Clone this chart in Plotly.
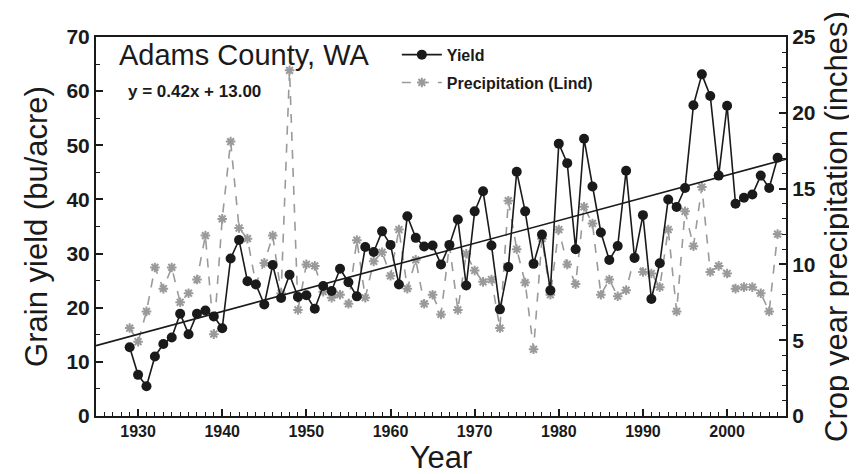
import plotly.graph_objects as go

years = list(range(1929, 2007))

yield_bu = [12.7, 7.6, 5.5, 11.0, 13.3, 14.5, 18.9, 15.1, 18.9, 19.5,
            18.4, 16.2, 29.1, 32.5, 24.9, 24.3, 20.6, 27.9, 21.8, 26.1,
            22.0, 22.3, 19.8, 24.0, 23.1, 27.2, 24.7, 22.1, 31.2, 30.3,
            34.1, 31.6, 24.3, 36.9, 32.9, 31.3, 31.5, 28.0, 31.6, 36.3,
            24.1, 37.8, 41.5, 31.5, 19.7, 27.5, 45.1, 37.8, 28.1, 33.5,
            23.2, 50.3, 46.7, 30.8, 51.2, 42.4, 33.9, 28.8, 31.4, 45.3,
            29.2, 37.1, 21.6, 28.2, 40.0, 38.6, 42.1, 57.4, 63.1, 59.1,
            44.4, 57.3, 39.2, 40.3, 40.9, 44.4, 42.1, 47.7]

precip_in = [5.8, 4.9, 6.9, 9.8, 8.4, 9.8, 7.5, 8.1, 9.0, 11.9,
             5.4, 13.0, 18.1, 12.4, 11.7, 8.7, 10.1, 11.9, 8.1, 22.8,
             7.0, 10.0, 9.9, 8.2, 7.8, 8.0, 7.4, 11.6, 7.8, 10.2,
             10.8, 9.25, 12.3, 8.4, 10.3, 7.4, 8.0, 6.7, 11.3, 7.0,
             10.7, 9.6, 8.85, 9.0, 5.8, 14.2, 11.0, 8.8, 4.4, 11.7,
             8.0, 12.3, 10.0, 8.7, 13.8, 12.7, 8.0, 9.0, 7.9, 8.3,
             10.5, 9.5, 9.4, 8.5, 12.3, 6.9, 13.5, 11.2, 15.1, 9.5,
             9.9, 9.4, 8.4, 8.5, 8.5, 8.1, 6.9, 12.0]

TREND_SLOPE = 0.42
TREND_INTERCEPT = 13.00
TREND_ORIGIN = 1925
x_range = [1925, 2007]
trend_x = x_range
trend_y = [TREND_SLOPE * (x - TREND_ORIGIN) + TREND_INTERCEPT for x in trend_x]

FONT = "Liberation Sans"
INK = "#1a1a1a"
GRAY = "#9a9a9a"

fig = go.Figure()

fig.add_trace(go.Scatter(
    x=years, y=precip_in, name="Precipitation (Lind)", mode="lines+markers",
    yaxis="y", legendrank=2, legendgroup="b",
    line=dict(color=GRAY, width=1.6, dash="dash"),
    marker=dict(symbol="asterisk-open", size=8, color=GRAY,
                line=dict(color=GRAY, width=2)),
))
fig.add_trace(go.Scatter(
    x=trend_x, y=trend_y, mode="lines", yaxis="y2", showlegend=False,
    line=dict(color=INK, width=1.6),
))
fig.add_trace(go.Scatter(
    x=years, y=yield_bu, name="Yield", mode="lines+markers",
    yaxis="y2", legendrank=1, legendgroup="a",
    line=dict(color=INK, width=1.6),
    marker=dict(symbol="circle", size=10, color=INK),
))

axis_common = dict(
    ticks="inside", ticklen=7, tickwidth=1.5, tickcolor=INK,
    showline=True, linecolor=INK, linewidth=2,
    showgrid=False, zeroline=False, automargin=False,
)

fig.update_layout(
    width=857, height=474,
    margin=dict(l=88, r=79, t=29, b=66, autoexpand=False),
    plot_bgcolor="white", paper_bgcolor="white",
    font=dict(family=FONT, color=INK),
    showlegend=True,
    legend=dict(x=0.436, y=0.998, xanchor="left", yanchor="top",
                bgcolor="rgba(0,0,0,0)", font=dict(size=16, family=FONT, weight="bold"),
                tracegroupgap=4, itemwidth=40, traceorder="grouped"),
    xaxis=dict(
        range=x_range, tickmode="linear", tick0=1930, dtick=10,
        minor=dict(dtick=1, ticks="inside", ticklen=4, tickwidth=1, tickcolor=INK),
        mirror=True,
        tickfont=dict(size=16, family=FONT, weight="bold"),
        title=dict(text="Year", font=dict(size=31, family=FONT), standoff=6),
        **axis_common,
    ),
    yaxis=dict(
        side="right", range=[0, 25], tickmode="linear", tick0=0, dtick=5,
        minor=dict(dtick=1, ticks="inside", ticklen=4, tickwidth=1, tickcolor=INK),
        tickfont=dict(size=21, family=FONT, weight="bold"),
        title=dict(text="Crop year precipitation (inches)", font=dict(size=31, family=FONT), standoff=10),
        **axis_common,
    ),
    yaxis2=dict(
        overlaying="y", side="left", range=[0, 70], tickmode="linear", tick0=0, dtick=10,
        minor=dict(dtick=5, ticks="inside", ticklen=4, tickwidth=1, tickcolor=INK),
        tickfont=dict(size=21, family=FONT, weight="bold"),
        title=dict(text="Grain yield (bu/acre)", font=dict(size=31, family=FONT), standoff=10),
        **axis_common,
    ),
    annotations=[
        dict(text="Adams County, WA", x=0.031, y=0.952, xref="paper", yref="paper",
             xanchor="left", yanchor="middle", showarrow=False,
             font=dict(size=29, family=FONT, color=INK)),
        dict(text="y = 0.42x + 13.00", x=0.043, y=0.857, xref="paper", yref="paper",
             xanchor="left", yanchor="middle", showarrow=False,
             font=dict(size=17, family=FONT, color=INK, weight="bold")),
    ],
)

fig.write_html("out.html")
